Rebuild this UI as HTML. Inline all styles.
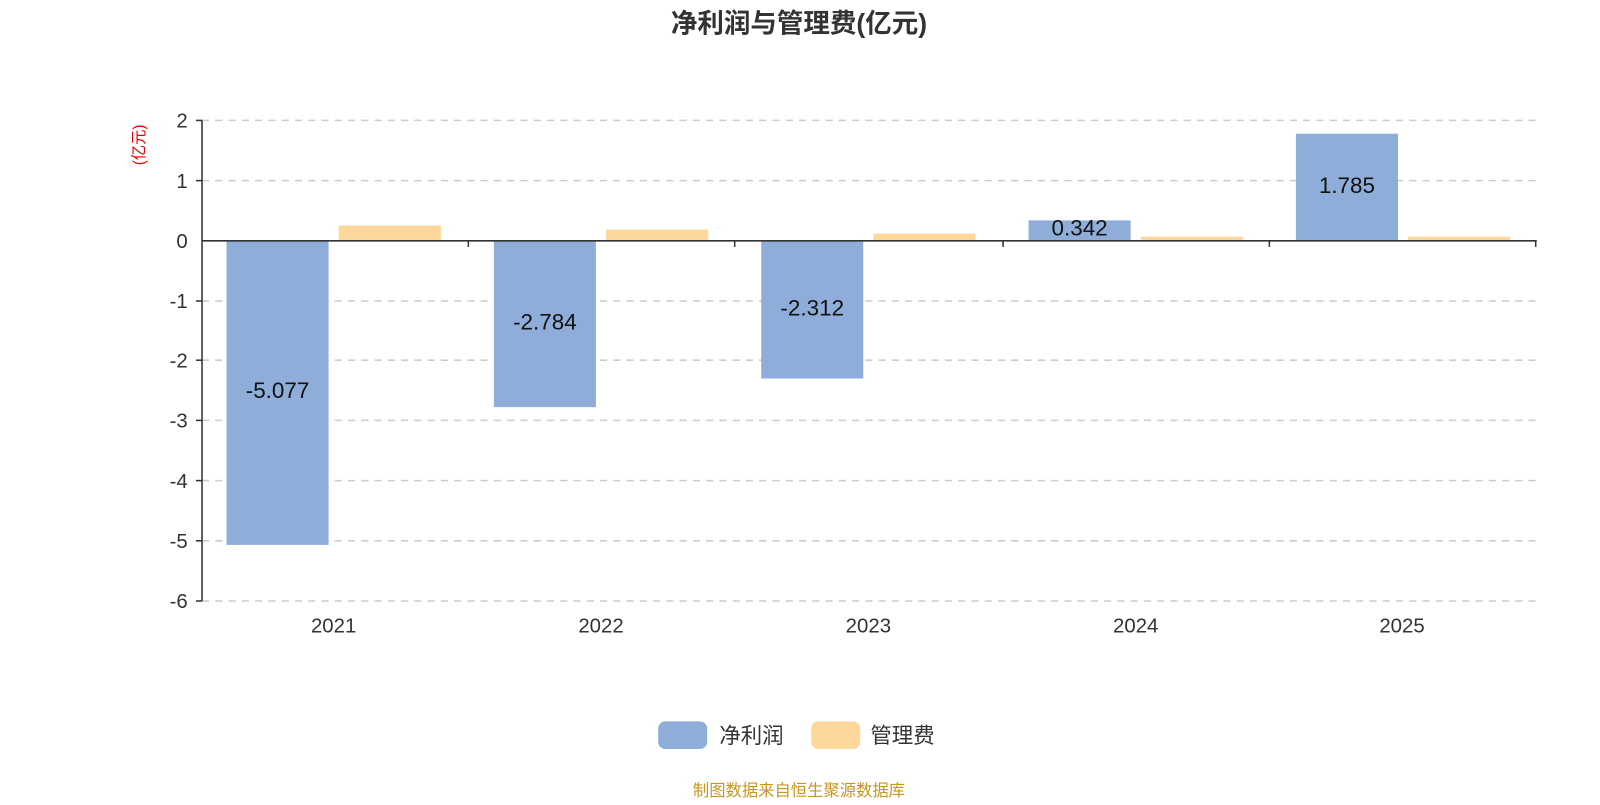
<!DOCTYPE html>
<html><head><meta charset="utf-8"><style>
html,body{margin:0;padding:0;background:#fff;}
svg text{font-family:"Liberation Sans","Noto Sans CJK SC",sans-serif;}
</style></head><body>
<svg width="1600" height="800" xmlns="http://www.w3.org/2000/svg">
<g transform="scale(1.0204)">
<text x="783" y="32" text-anchor="middle" font-size="26" font-weight="bold" fill="#333">净利润与管理费(亿元)</text>
<text transform="translate(141,142) rotate(-90)" text-anchor="middle" font-size="15" fill="#e00">(亿元)</text>
<g stroke="#ccc" stroke-width="1.5" stroke-dasharray="7,6">
<line x1="198" x2="1505" y1="118" y2="118"/><line x1="198" x2="1505" y1="177" y2="177"/>
<line x1="198" x2="1505" y1="295" y2="295"/><line x1="198" x2="1505" y1="353" y2="353"/>
<line x1="198" x2="1505" y1="412" y2="412"/><line x1="198" x2="1505" y1="471" y2="471"/>
<line x1="198" x2="1505" y1="530" y2="530"/><line x1="198" x2="1505" y1="589" y2="589"/>
</g>
<g fill="#8eadd9">
<rect x="222" y="236" width="100" height="298"/>
<rect x="484" y="236" width="100" height="163"/>
<rect x="746" y="236" width="100" height="135"/>
<rect x="1008" y="216" width="100" height="20"/>
<rect x="1270" y="131" width="100" height="105"/>
</g>
<g fill="#fdd89a">
<rect x="332" y="221" width="100" height="15"/>
<rect x="594" y="225" width="100" height="11"/>
<rect x="856" y="229" width="100" height="7"/>
<rect x="1118" y="232" width="100" height="4"/>
<rect x="1380" y="232" width="100" height="4"/>
</g>
<g stroke="#333" stroke-width="1.5" fill="none">
<line x1="198" y1="118" x2="198" y2="589"/>
<line x1="198" y1="236" x2="1506" y2="236"/>
<line x1="459" y1="236" x2="459" y2="242"/><line x1="720" y1="236" x2="720" y2="242"/>
<line x1="983" y1="236" x2="983" y2="242"/><line x1="1244" y1="236" x2="1244" y2="242"/>
<line x1="1505" y1="236" x2="1505" y2="242"/>
<line x1="192" y1="118" x2="198" y2="118"/><line x1="192" y1="177" x2="198" y2="177"/>
<line x1="192" y1="295" x2="198" y2="295"/><line x1="192" y1="353" x2="198" y2="353"/>
<line x1="192" y1="412" x2="198" y2="412"/><line x1="192" y1="471" x2="198" y2="471"/>
<line x1="192" y1="530" x2="198" y2="530"/><line x1="192" y1="589" x2="198" y2="589"/>
</g>
<g font-size="20" fill="#333" text-anchor="end">
<text x="184" y="125">2</text><text x="184" y="184">1</text><text x="184" y="243">0</text>
<text x="184" y="302">-1</text><text x="184" y="360">-2</text><text x="184" y="419">-3</text>
<text x="184" y="478">-4</text><text x="184" y="537">-5</text><text x="184" y="596">-6</text>
</g>
<g font-size="20" fill="#333" text-anchor="middle">
<text x="327" y="620">2021</text><text x="589" y="620">2022</text><text x="851" y="620">2023</text>
<text x="1113" y="620">2024</text><text x="1374" y="620">2025</text>
</g>
<g font-size="22" fill="#111" text-anchor="middle">
<text x="272" y="390">-5.077</text><text x="534" y="323">-2.784</text><text x="796" y="309">-2.312</text>
<text x="1058" y="231">0.342</text><text x="1320" y="189">1.785</text>
</g>
<rect x="645" y="707" width="48" height="27" rx="7" fill="#8eadd9"/>
<text x="705" y="728" font-size="21" fill="#333">净利润</text>
<rect x="795" y="707" width="48" height="27" rx="7" fill="#fdd89a"/>
<text x="853" y="728" font-size="21" fill="#333">管理费</text>
<text x="783" y="780" text-anchor="middle" font-size="16" fill="#c8961e">制图数据来自恒生聚源数据库</text>
</g>
</svg>
</body></html>
